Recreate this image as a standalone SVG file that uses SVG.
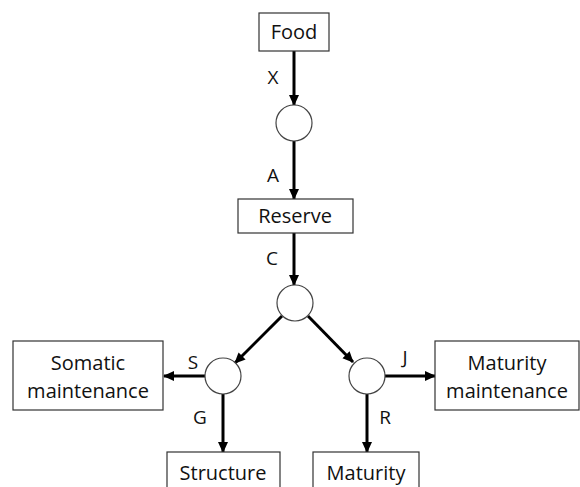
<svg xmlns="http://www.w3.org/2000/svg" width="580" height="487" viewBox="0 0 580 487">
<style>
.box{fill:#fff;stroke:#333;stroke-width:1.2}
.pool{fill:#fff;stroke:#444;stroke-width:1.2}
.t{font-family:"Open Sans","Liberation Sans",sans-serif;font-size:20px;fill:#111;text-anchor:middle}
.l{font-family:"Open Sans","Liberation Sans",sans-serif;font-size:19px;fill:#111;text-anchor:middle}
.e{stroke:#000;stroke-width:3;fill:none;marker-end:url(#ah)}
</style>
<defs>
<marker id="ah" markerWidth="12" markerHeight="12" refX="10" refY="5" orient="auto" markerUnits="userSpaceOnUse">
<path d="M0,0 L11,5 L0,10 Z" fill="#000"/>
</marker>
</defs>
<rect width="580" height="487" fill="#fff"/>
<g id="connectors">
<line class="e" x1="294" y1="51" x2="294" y2="105"/>
<line class="e" x1="294" y1="141" x2="294" y2="199"/>
<line class="e" x1="294" y1="233" x2="294" y2="285"/>
<line class="e" x1="282" y1="316" x2="235" y2="363"/>
<line class="e" x1="308" y1="316" x2="353" y2="362"/>
<line class="e" x1="205" y1="376" x2="164" y2="376"/>
<line class="e" x1="223" y1="394" x2="223" y2="452"/>
<line class="e" x1="385" y1="376" x2="435" y2="376"/>
<line class="e" x1="367" y1="394" x2="367" y2="452"/>
<text class="l" x="273" y="84">X</text>
<text class="l" x="273" y="182">A</text>
<text class="l" x="272" y="265">C</text>
<text class="l" x="193" y="369">S</text>
<text class="l" x="200" y="424">G</text>
<text class="l" x="405" y="364">J</text>
<text class="l" x="385" y="424">R</text>
</g>
<g id="food"><rect class="box" x="259" y="13" width="70" height="38"/><text class="t" x="294" y="39">Food</text></g>
<g id="pool1"><circle class="pool" cx="294" cy="123" r="18"/></g>
<g id="reserve"><rect class="box" x="238" y="199" width="115" height="34"/><text class="t" x="295" y="223">Reserve</text></g>
<g id="pool2"><circle class="pool" cx="295" cy="303" r="18"/></g>
<g id="pool3"><circle class="pool" cx="223" cy="376" r="18"/></g>
<g id="pool4"><circle class="pool" cx="367" cy="376" r="18"/></g>
<g id="somatic"><rect class="box" x="13" y="341" width="150" height="69"/><text class="t" x="88" y="370">Somatic</text><text class="t" x="88" y="398">maintenance</text></g>
<g id="matmaint"><rect class="box" x="435" y="341" width="144" height="69"/><text class="t" x="507" y="370">Maturity</text><text class="t" x="507" y="398">maintenance</text></g>
<g id="structure"><rect class="box" x="167" y="452" width="113" height="50"/><text class="t" x="223" y="480">Structure</text></g>
<g id="maturity"><rect class="box" x="313" y="452" width="106" height="50"/><text class="t" x="366" y="480">Maturity</text></g>
</svg>
